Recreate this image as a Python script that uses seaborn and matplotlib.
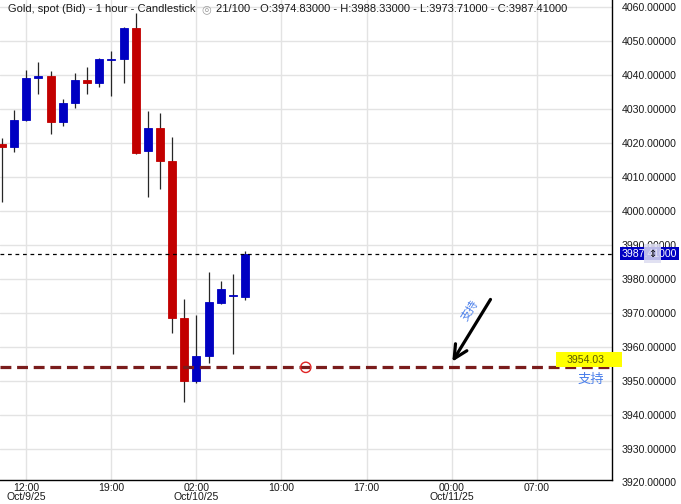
## Grafico de velas - Ouro spot 1h

import numpy as np
import pandas as pd
import seaborn as sns
import matplotlib.pyplot as plt
import matplotlib.transforms as mtransforms
from matplotlib.patches import Rectangle

## Dados (OHLC por hora, index = barra)
opens  = [4019.7, 4018.8, 4026.8, 4039.1, 4039.7, 4026.2, 4031.8, 4038.5, 4037.6, 4044.4,
          4044.7, 4053.8, 4017.6, 4024.4, 4014.7, 3968.5, 3950.0, 3957.4, 3972.9, 3975.0, 3974.83]
highs  = [4021.5, 4029.7, 4041.5, 4043.8, 4041.2, 4032.9, 4040.6, 4042.4, 4044.9, 4047.1,
          4054.1, 4058.2, 4029.4, 4028.8, 4021.8, 3974.1, 3969.4, 3982.1, 3979.4, 3981.5, 3988.33]
lows   = [4002.6, 4017.4, 4026.5, 4034.4, 4022.6, 4025.0, 4030.3, 4034.4, 4036.5, 4033.8,
          4037.6, 4016.8, 4004.1, 4006.5, 3964.1, 3943.8, 3949.4, 3955.3, 3972.6, 3957.9, 3973.71]
closes = [4018.8, 4026.8, 4039.1, 4039.6, 4026.2, 4031.8, 4038.5, 4037.6, 4044.7, 4044.7,
          4053.8, 4017.1, 4024.4, 4014.7, 3968.5, 3950.0, 3957.4, 3973.2, 3977.1, 3975.3, 3987.41]

tick_labels = ['12:00\nOct/9/25', '19:00', '02:00\nOct/10/25', '10:00',
               '17:00', '00:00\nOct/11/25', '07:00']
y_ticks = [3920, 3930, 3940, 3950, 3960, 3970, 3980, 3990,
           4000, 4010, 4020, 4030, 4040, 4050, 4060]

suporte = 3954.03
suporte_marca = 25          # barra do circulo
seta_de = (40.2, 3974.0)
seta_para = (37.06, 3955.7)
ultimo = closes[-1]

df = pd.DataFrame({'Open': opens, 'High': highs, 'Low': lows, 'Close': closes})
df['idx'] = np.arange(len(df))
df['alta'] = df['Close'] >= df['Open']

## Estilo
sns.set_theme(style='white')
plt.rcParams['font.family'] = ['Liberation Sans', 'DejaVu Sans']
cjk = ['Noto Sans CJK SC', 'DejaVu Sans']

vermelho = '#c20000'
azul = '#0000c2'

fig = plt.figure(figsize=(6.81, 5.04), dpi=100)
ax = fig.add_axes([0, 24 / 504, 612 / 681, 480 / 504])

# Grade
for y in y_ticks:
    ax.axhline(y, color='#e3e3e3', lw=1, zorder=0)
pos_ticks = np.arange(2, 2 + 7 * len(tick_labels), 7)
for x in pos_ticks:
    ax.axvline(x, color='#e3e3e3', lw=1, zorder=0)

# Pavios
ax.vlines(df['idx'], df['Low'], df['High'], color='#262626', lw=0.9, zorder=2)

# Corpos
cores = np.where(df['alta'], azul, vermelho)
base = np.minimum(df['Open'], df['Close'])
altura = np.abs(df['Close'] - df['Open'])
ax.bar(df['idx'], altura, bottom=base, width=0.66, color=cores,
       edgecolor=cores, linewidth=0.6, zorder=3)

# Linha do preco atual
ax.axhline(ultimo, color='black', lw=0.9, ls=(0, (3, 3)), zorder=4)

# Linha de suporte
ax.axhline(suporte, color='#7a1c1c', lw=2.3, ls=(0, (3.4, 1.8)), zorder=4)
sns.scatterplot(x=[suporte_marca], y=[suporte], ax=ax, marker='o', s=55,
                facecolor='none', edgecolor='#e02424', linewidth=1, zorder=5)

# Seta + texto
ax.annotate('', xy=seta_para, xytext=seta_de,
            arrowprops=dict(arrowstyle='->,head_length=0.8,head_width=0.4',
                            lw=2.3, color='black', shrinkA=0, shrinkB=0), zorder=6)
ax.text(38.5, 3970.9, '支持', rotation=58, ha='center', va='center',
        fontsize=8, color='#4a7fea', family=cjk, zorder=6)

# Etiqueta amarela do suporte
trans = mtransforms.blended_transform_factory(ax.transAxes, ax.transData)
ax.add_patch(Rectangle((556 / 612, suporte), 66 / 612, 4.4, transform=trans,
                       facecolor='#ffff00', edgecolor='none', clip_on=False, zorder=7))
ax.text(586 / 612, suporte + 2.2, '3954.03', transform=trans, ha='center', va='center',
        fontsize=7.6, color='#5a5a00', zorder=8)
ax.text(591 / 612, suporte - 3.4, '支持', transform=trans, ha='center', va='center',
        fontsize=9.5, color='#4a7fea', family=cjk, zorder=7)

# Titulo
t1 = ax.text(8 / 612, 1 - 9 / 480, 'Gold, spot (Bid) - 1 hour - Candlestick',
             transform=ax.transAxes, ha='left', va='center', fontsize=8, color='#1a1a1a')
t2 = ax.annotate('◎', xy=(1, 0.5), xycoords=t1, xytext=(4, 0), textcoords='offset points',
                 ha='left', va='center', fontsize=8, color='#9a9a9a', family=['DejaVu Sans'])
ax.annotate('21/100 - O:3974.83000 - H:3988.33000 - L:3973.71000 - C:3987.41000',
            xy=(1, 0.5), xycoords=t2, xytext=(4, 0), textcoords='offset points',
            ha='left', va='center', fontsize=8, color='#1a1a1a')

# Eixos
ax.set_xlim(-0.165, 50.2)
ax.set_ylim(3920.9, 4062.06)
ax.set_xticks(pos_ticks)
ax.set_xticklabels(tick_labels, fontsize=7.6, linespacing=0.95)
ax.yaxis.tick_right()
ax.set_yticks([y for y in y_ticks if y > 3921])
ax.set_yticklabels([f'{y:.5f}' for y in y_ticks if y > 3921], fontsize=7.6)
ax.tick_params(axis='x', length=0, pad=2, colors='#1a1a1a')
ax.tick_params(axis='y', length=0, pad=7, colors='#1a1a1a')
for s in ['top', 'left']:
    ax.spines[s].set_visible(False)
for s in ['bottom', 'right']:
    ax.spines[s].set_color('black')
    ax.spines[s].set_linewidth(1)

# Rotulo 3920 fora do limite
ax.annotate(f'{y_ticks[0]:.5f}', xy=(1, y_ticks[0]), xycoords=trans, xytext=(7, 0),
            textcoords='offset points', ha='left', va='center', fontsize=7.6,
            color='#1a1a1a', annotation_clip=False)

# Etiqueta do preco atual
ax.annotate(f'{ultimo:.5f}', xy=(1, ultimo), xycoords=trans, xytext=(7, 0),
            textcoords='offset points', ha='left', va='center', fontsize=7.6,
            color='white', annotation_clip=False,
            bbox=dict(boxstyle='square,pad=0.15', facecolor=azul, edgecolor='none'))
ax.annotate('⇕', xy=(1, ultimo), xycoords=trans, xytext=(29, 0),
            textcoords='offset points', ha='center', va='center', fontsize=7,
            color='black', annotation_clip=False, family=['DejaVu Sans'],
            bbox=dict(boxstyle='square,pad=0.45', facecolor='#dcdcf0', alpha=0.85,
                      edgecolor='none'))

fig.savefig('out.png', dpi=100)
